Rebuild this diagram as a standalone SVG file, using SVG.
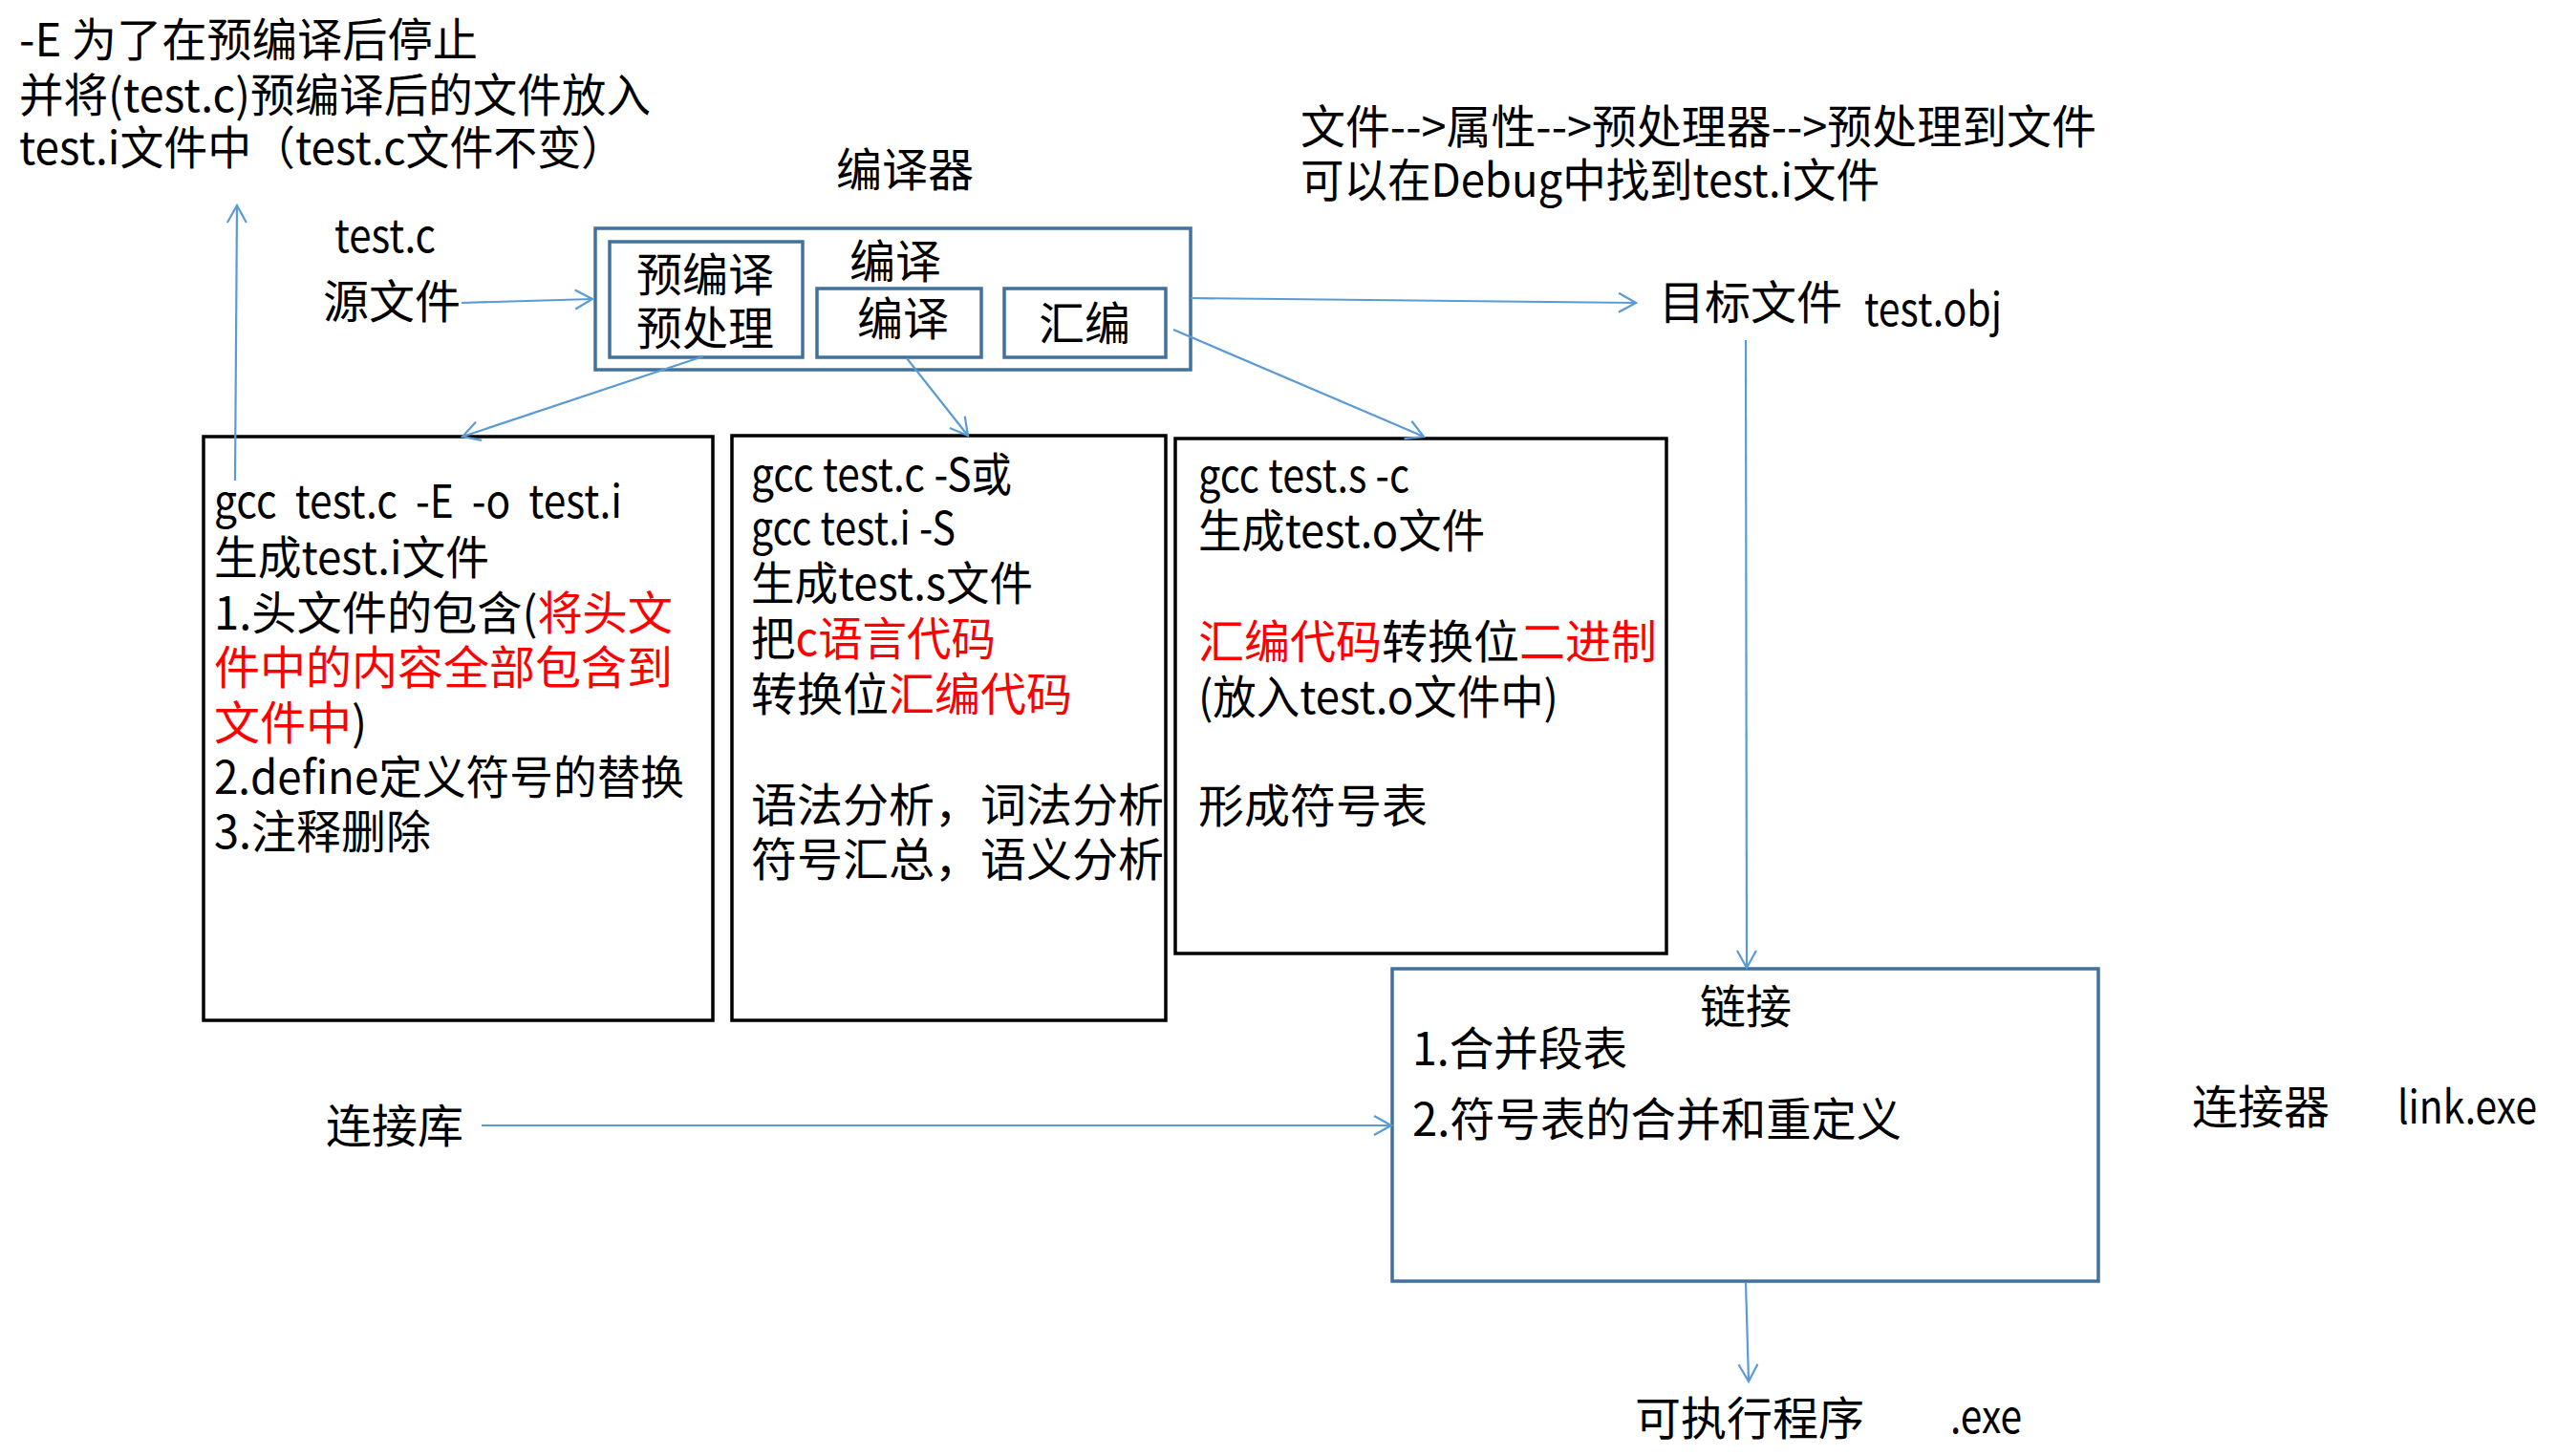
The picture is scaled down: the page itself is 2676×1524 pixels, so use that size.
<svg xmlns="http://www.w3.org/2000/svg" width="2676" height="1524" viewBox="0 0 2676 1524">
<style>
text{font-family:"Noto Sans CJK SC","Noto Sans",sans-serif;font-size:48px;fill:#000}
.r{fill:#FF0000}
.bb{fill:#fff;stroke:#000;stroke-width:3.5}
.bl{fill:#fff;stroke:#41719C;stroke-width:3.5}
.cn{fill:none;stroke:#5B9BD5;stroke-width:2.2;marker-end:url(#ah)}
</style>
<defs>
<marker id="ah" markerUnits="userSpaceOnUse" viewBox="0 0 22 24" refX="20" refY="12" markerWidth="22" markerHeight="24" orient="auto">
<path d="M2,2 L20,12 L2,22" fill="none" stroke="#5B9BD5" stroke-width="2.2"/>
</marker>
</defs>
<rect width="2676" height="1524" fill="#fff"/>

<g id="note-left">
<text><tspan x="20" y="59" textLength="480" lengthAdjust="spacingAndGlyphs">-E 为了在预编译后停止</tspan><tspan x="20" y="117" textLength="661" lengthAdjust="spacingAndGlyphs">并将(test.c)预编译后的文件放入</tspan><tspan x="20" y="172" textLength="634" lengthAdjust="spacingAndGlyphs">test.i文件中（test.c文件不变）</tspan></text>
</g>

<g id="note-right">
<text><tspan x="1361" y="150" textLength="833" lengthAdjust="spacingAndGlyphs">文件--&gt;属性--&gt;预处理器--&gt;预处理到文件</tspan><tspan x="1361" y="206" textLength="606" lengthAdjust="spacingAndGlyphs">可以在Debug中找到test.i文件</tspan></text>
</g>

<g id="source">
<text x="350" y="264" textLength="106" lengthAdjust="spacingAndGlyphs">test.c</text>
<text x="338" y="333">源文件</text>
</g>

<g id="compiler">
<text x="875" y="195">编译器</text>
<rect class="bl" x="623" y="239" width="623" height="148"/>
<text x="889" y="291">编译</text>
</g>
<g id="preprocess">
<rect class="bl" x="638" y="253" width="202" height="121"/>
<text><tspan x="666" y="305">预编译</tspan><tspan x="666" y="361">预处理</tspan></text>
</g>
<g id="compile">
<rect class="bl" x="855" y="302" width="172" height="72"/>
<text x="897" y="351">编译</text>
</g>
<g id="assemble">
<rect class="bl" x="1051" y="302" width="169" height="72"/>
<text x="1087" y="356">汇编</text>
</g>

<g id="object">
<text x="1736" y="334">目标文件</text>
<text x="1951" y="341" textLength="144" lengthAdjust="spacingAndGlyphs">test.obj</text>
</g>

<g id="box-preprocess">
<rect class="bb" x="213" y="457" width="533" height="611"/>
<text xml:space="preserve"><tspan x="224" y="542" textLength="427" lengthAdjust="spacingAndGlyphs">gcc  test.c  -E  -o  test.i</tspan><tspan x="224" y="601" textLength="288" lengthAdjust="spacingAndGlyphs">生成test.i文件</tspan><tspan x="224" y="659" textLength="480" lengthAdjust="spacingAndGlyphs">1.头文件的包含(<tspan class="r">将头文</tspan></tspan><tspan x="224" y="716" class="r">件中的内容全部包含到</tspan><tspan x="224" y="774"><tspan class="r">文件中</tspan>)</tspan><tspan x="224" y="831" textLength="492" lengthAdjust="spacingAndGlyphs">2.define定义符号的替换</tspan><tspan x="224" y="888" textLength="227" lengthAdjust="spacingAndGlyphs">3.注释删除</tspan></text>
</g>

<g id="box-compile">
<rect class="bb" x="766" y="456" width="454" height="612"/>
<text><tspan x="786" y="514" textLength="273" lengthAdjust="spacingAndGlyphs">gcc test.c -S或</tspan><tspan x="786" y="570" textLength="214" lengthAdjust="spacingAndGlyphs">gcc test.i -S</tspan><tspan x="786" y="628" textLength="295" lengthAdjust="spacingAndGlyphs">生成test.s文件</tspan><tspan x="786" y="686" textLength="256" lengthAdjust="spacingAndGlyphs">把<tspan class="r">c语言代码</tspan></tspan><tspan x="786" y="744">转换位<tspan class="r">汇编代码</tspan></tspan><tspan x="786" y="860">语法分析，词法分析</tspan><tspan x="786" y="917">符号汇总，语义分析</tspan></text>
</g>

<g id="box-assemble">
<rect class="bb" x="1230" y="459" width="514" height="539"/>
<text><tspan x="1254" y="515" textLength="221" lengthAdjust="spacingAndGlyphs">gcc test.s -c</tspan><tspan x="1254" y="573" textLength="300" lengthAdjust="spacingAndGlyphs">生成test.o文件</tspan><tspan x="1254" y="689"><tspan class="r">汇编代码</tspan>转换位<tspan class="r">二进制</tspan></tspan><tspan x="1254" y="747" textLength="377" lengthAdjust="spacingAndGlyphs">(放入test.o文件中)</tspan><tspan x="1254" y="861">形成符号表</tspan></text>
</g>

<g id="link">
<rect class="bl" x="1457" y="1014" width="739" height="327"/>
<text x="1779" y="1071">链接</text>
<text><tspan x="1478" y="1115" textLength="225" lengthAdjust="spacingAndGlyphs">1.合并段表</tspan><tspan x="1478" y="1189" textLength="512" lengthAdjust="spacingAndGlyphs">2.符号表的合并和重定义</tspan></text>
</g>

<g id="library">
<text x="341" y="1196">连接库</text>
</g>

<g id="linker">
<text x="2294" y="1176">连接器</text>
<text x="2509" y="1176" textLength="146" lengthAdjust="spacingAndGlyphs">link.exe</text>
</g>

<g id="executable">
<text x="1711" y="1502">可执行程序</text>
<text x="2041" y="1500" textLength="75" lengthAdjust="spacingAndGlyphs">.exe</text>
</g>

<g id="connectors">
<path class="cn" d="M483,317 L620,313"/>
<path class="cn" d="M246,503 L248,215"/>
<path class="cn" d="M736,373 L484,457"/>
<path class="cn" d="M949,375 L1013,456"/>
<path class="cn" d="M1228,345 L1490,457"/>
<path class="cn" d="M1246,312 L1712,317"/>
<path class="cn" d="M1827,356 L1828,1013"/>
<path class="cn" d="M504,1178 L1456,1178"/>
<path class="cn" d="M1827,1342 L1830,1446"/>
</g>
</svg>
